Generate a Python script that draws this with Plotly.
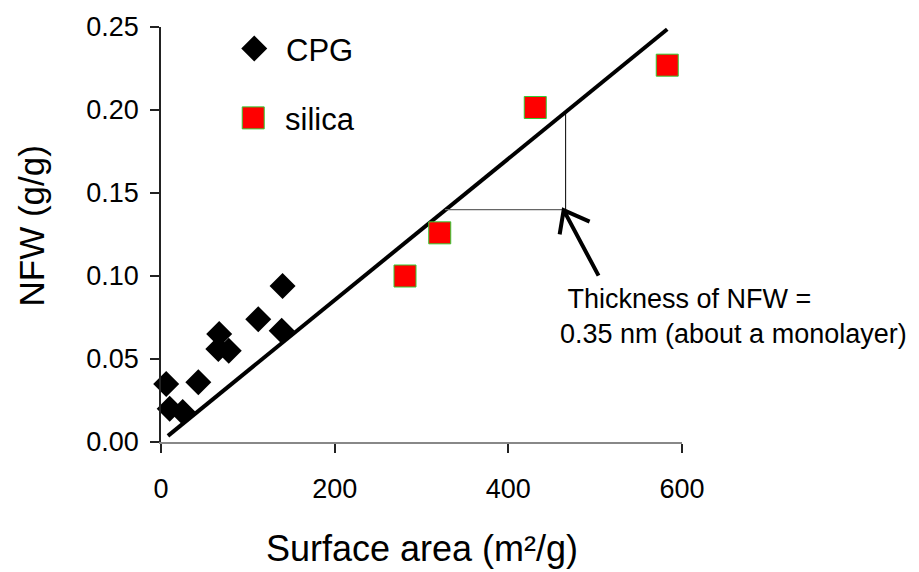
import plotly.graph_objects as go

# Non-freezing water (NFW) versus specific surface area
cpg_area = [6, 10, 25, 43, 66, 67, 78, 112, 139, 140]
cpg_nfw = [0.035, 0.020, 0.018, 0.036, 0.056, 0.065, 0.055, 0.074, 0.067, 0.094]

silica_area = [281, 321, 431, 583]
silica_nfw = [0.100, 0.126, 0.2015, 0.227]

# straight-line fit through both sample sets
fit_area = [8, 583]
fit_nfw = [0.0037, 0.2486]

# construction marking the layer thickness on the fit line
guide_h_area = [327, 466]
guide_h_nfw = [0.140, 0.140]
guide_v_area = [466, 466]
guide_v_nfw = [0.140, 0.198]

x_ticks = [0, 200, 400, 600]
y_ticks = [0.00, 0.05, 0.10, 0.15, 0.20, 0.25]

FONT = "Liberation Sans, Arial, sans-serif"

fig = go.Figure()

fig.add_trace(go.Scatter(x=fit_area, y=fit_nfw, mode="lines",
                         line=dict(color="black", width=4),
                         showlegend=False, hoverinfo="skip"))
fig.add_trace(go.Scatter(x=guide_h_area, y=guide_h_nfw, mode="lines",
                         line=dict(color="#666666", width=1.3),
                         showlegend=False, hoverinfo="skip"))
fig.add_trace(go.Scatter(x=guide_v_area, y=guide_v_nfw, mode="lines",
                         line=dict(color="black", width=1),
                         showlegend=False, hoverinfo="skip"))

cpg_marker = dict(symbol="diamond", size=20, color="black",
                  line=dict(width=0))
silica_marker = dict(symbol="square", size=22, color="#ff0000",
                     line=dict(color="#33cc33", width=1))

fig.add_trace(go.Scatter(x=cpg_area, y=cpg_nfw, mode="markers", name="CPG",
                         marker=cpg_marker, cliponaxis=False, showlegend=False))
fig.add_trace(go.Scatter(x=silica_area, y=silica_nfw, mode="markers", name="silica",
                         marker=silica_marker, cliponaxis=False, showlegend=False))

# hand-placed key on an overlay axis spanning the plot area (0..1)
key_x = [0.179, 0.177]
key_y = [0.948, 0.781]
key_names = ["CPG", "silica"]
fig.add_trace(go.Scatter(x=[key_x[0]], y=[key_y[0]], xaxis="x2", yaxis="y2",
                         mode="markers", marker=cpg_marker, cliponaxis=False,
                         showlegend=False, hoverinfo="skip"))
fig.add_trace(go.Scatter(x=[key_x[1]], y=[key_y[1]], xaxis="x2", yaxis="y2",
                         mode="markers", marker=silica_marker, cliponaxis=False,
                         showlegend=False, hoverinfo="skip"))
for kx, ky, name in zip(key_x, key_y, key_names):
    fig.add_annotation(x=kx + 0.058, y=ky - 0.004, xref="x2", yref="y2",
                       text=name, showarrow=False, xanchor="left", yanchor="middle",
                       font=dict(family=FONT, size=31, color="black"))

# arrow pointing at the corner of the construction
arrow_tail = (503.9, 0.1002)
arrow_head = (463.7, 0.1397)
wing_left = (459.1, 0.1251)
wing_right = (493.6, 0.1328)
path = (f"M {arrow_tail[0]},{arrow_tail[1]} L {arrow_head[0]},{arrow_head[1]} "
        f"M {wing_left[0]},{wing_left[1]} L {arrow_head[0]},{arrow_head[1]} "
        f"L {wing_right[0]},{wing_right[1]}")
fig.add_shape(type="path", path=path, xref="x", yref="y",
              line=dict(color="black", width=4))

fig.add_annotation(x=457.5, y=0.0755, xref="x", yref="y",
                   text="\u00a0Thickness of NFW =<br>0.35 nm (about a monolayer)",
                   showarrow=False, xanchor="left", yanchor="middle", align="left",
                   font=dict(family=FONT, size=27, color="black"))

# axis titles
fig.add_annotation(x=0.5, y=-0.2565, xref="paper", yref="paper",
                   text="Surface area (m²/g)", showarrow=False,
                   xanchor="center", yanchor="middle",
                   font=dict(family=FONT, size=36, color="black"))
fig.add_annotation(x=-0.249, y=0.52, xref="paper", yref="paper",
                   text="NFW (g/g)", showarrow=False, textangle=-90,
                   xanchor="center", yanchor="middle",
                   font=dict(family=FONT, size=35, color="black"))

fig.update_layout(
    width=919, height=572,
    margin=dict(l=161, r=237, t=21, b=130),
    paper_bgcolor="white", plot_bgcolor="white",
    font=dict(family=FONT, color="black"),
    showlegend=False,
    xaxis=dict(range=[0, 600], tickvals=x_ticks, ticktext=[str(v) for v in x_ticks],
               showgrid=False, zeroline=False, showline=True,
               linecolor="#888888", linewidth=2,
               ticks="outside", ticklen=9, tickwidth=1.5, tickcolor="#222222",
               tickfont=dict(family=FONT, size=27, color="black"),
               ticklabelstandoff=13, fixedrange=True),
    yaxis=dict(range=[0, 0.25], tickvals=y_ticks,
               ticktext=[f"{v:.2f}" for v in y_ticks],
               showgrid=False, zeroline=False, showline=True,
               linecolor="#222222", linewidth=1.5,
               ticks="outside", ticklen=9, tickwidth=1.5, tickcolor="#222222",
               tickfont=dict(family=FONT, size=27, color="black"),
               ticklabelstandoff=6, fixedrange=True),
    xaxis2=dict(range=[0, 1], overlaying="x", visible=False, fixedrange=True),
    yaxis2=dict(range=[0, 1], overlaying="y", visible=False, fixedrange=True),
)

fig.write_html("out.html")
